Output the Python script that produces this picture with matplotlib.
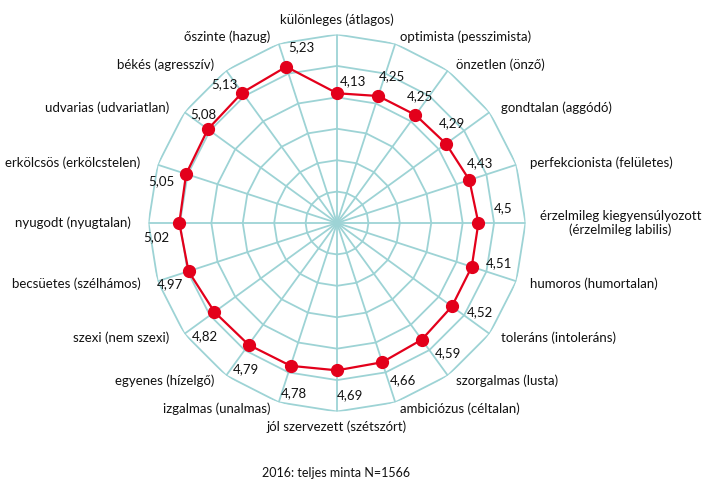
import numpy as np
import matplotlib
matplotlib.use("Agg")
import matplotlib.pyplot as plt

plt.rcParams["font.family"] = ["Lato", "DejaVu Sans"]

# traits in clockwise order, starting at the top
traits = [
    "különleges (átlagos)", "optimista (pesszimista)", "önzetlen (önző)",
    "gondtalan (aggódó)", "perfekcionista (felületes)",
    "érzelmileg kiegyensúlyozott\n(érzelmileg labilis)",
    "humoros (humortalan)", "toleráns (intoleráns)", "szorgalmas (lusta)",
    "ambiciózus (céltalan)", "jól szervezett (szétszórt)", "izgalmas (unalmas)",
    "egyenes (hízelgő)", "szexi (nem szexi)", "becsüetes (szélhámos)",
    "nyugodt (nyugtalan)", "erkölcsös (erkölcstelen)", "udvarias (udvariatlan)",
    "békés (agresszív)", "őszinte (hazug)",
]
values = [4.13, 4.25, 4.25, 4.29, 4.43, 4.5, 4.51, 4.52, 4.59, 4.66,
          4.69, 4.78, 4.79, 4.82, 4.97, 5.02, 5.05, 5.08, 5.13, 5.23]
rings = [1, 2, 3, 4, 5, 6]
caption = "2016: teljes minta N=1566"

# value label placement (radial shift, angular shift in degrees, screen ccw)
label_dr = [0.4, 0.73, 0.58, 0.55, 0.52, 0.8, 0.8, 0.85, 0.85, 0.75,
            0.8, 0.8, 0.7, 0.73, 0.7, 0.75, 0.68, 0.4, 0.56, 0.48]
label_dt = [-6.5, -2.6, 2.7, 5.0, 4.7, 5.0, 4.0, 4.2, 4.5, 4.8,
            4.3, 3.8, 4.0, 4.6, 2.0, 4.4, 4.7, -3.1, 3.0, -6.7]

GRID = "#9dd3d5"
RED = "#e3001b"
TEXT = "#111111"

n = len(traits)
theta = np.arange(n) * 2 * np.pi / n
closed = np.append(theta, theta[0])

fig = plt.figure(figsize=(7.02, 4.8), dpi=100)
ax = fig.add_axes([148.5 / 702, 68.5 / 480, 377 / 702, 377 / 480],
                  projection="polar")
ax.set_theta_zero_location("N")
ax.set_theta_direction(-1)
ax.set_ylim(0, rings[-1])
ax.axis("off")

for r in rings:
    ax.plot(closed, [r] * (n + 1), color=GRID, lw=1.3, zorder=1)
for t in theta:
    ax.plot([t, t], [0, rings[-1]], color=GRID, lw=1.3, zorder=1)

ax.plot(closed, values + values[:1], color=RED, lw=1.6, zorder=3)
ax.plot(theta, values, "o", color=RED, ms=8.5, zorder=4)

for i, (t, v) in enumerate(zip(theta, values)):
    tt = t - np.deg2rad(label_dt[i])
    ax.text(tt, v + label_dr[i], f"{v:g}".replace(".", ","),
            ha="center", va="center", fontsize=9.5, color=TEXT, zorder=5)

for t, name in zip(theta, traits):
    ux, uy = np.sin(t), np.cos(t)
    dx, dy = 14 * ux, 7 * uy
    if ux > 0.1:
        ha = "left"
    elif ux < -0.1:
        ha = "right"
        dx -= 4
    else:
        ha = "center"
    if uy > 0.99:
        va, dy = "bottom", 9
    elif uy < -0.99:
        va, dy = "top", -9
    else:
        va = "center"
    ax.annotate(name, xy=(t, rings[-1]), xytext=(dx, dy),
                textcoords="offset pixels", ha=ha, va=va,
                multialignment="center", fontsize=9.5, color=TEXT)

fig.text(336.5 / 702, 1 - 473 / 480, caption, ha="center", va="center",
         fontsize=9, color=TEXT)

fig.savefig("out.png", dpi=100, facecolor="white")
